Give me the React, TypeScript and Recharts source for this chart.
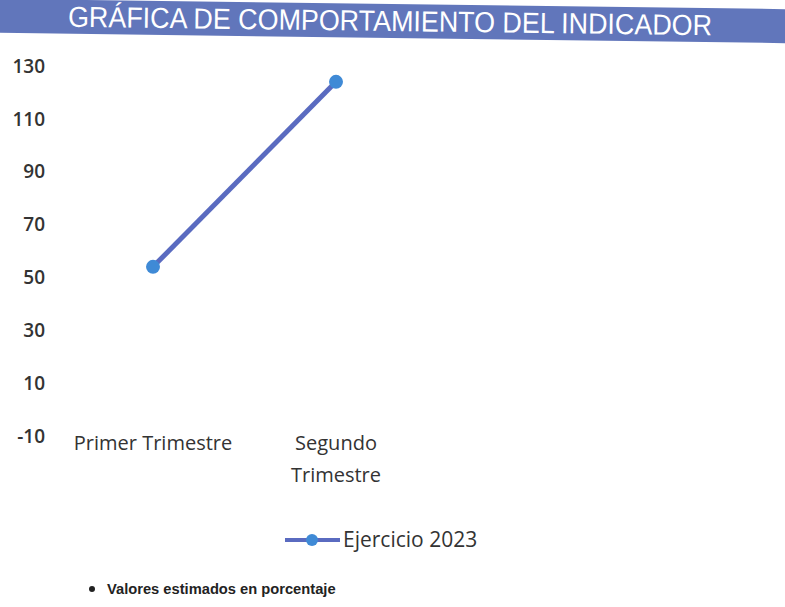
import React from "react";
import { LineChart, Line, XAxis, YAxis } from "recharts";

const categories = ["Primer Trimestre", "Segundo\nTrimestre", "", ""];
const seriesName = "Ejercicio 2023";
const values: (number | null)[] = [54, 124, null, null];
const yTicks = [-10, 10, 30, 50, 70, 90, 110, 130];
const titleText = "GRÁFICA DE COMPORTAMIENTO DEL INDICADOR";
const noteText = "Valores estimados en porcentaje";

const data = categories.map((c, i) => ({ cat: c, v: values[i] }));

const LINE = "#5a6bc0";
const DOT = "#3f8ad6";
const TXT = "#333333";
const FONT = "'Open Sans', Lato, sans-serif";

const XTick = (props: any) => {
  const { x, y, payload } = props;
  const lines = String(payload.value).split("\n");
  return (
    <g>
      {lines.map((l: string, i: number) => (
        <text
          key={i}
          x={x}
          y={y + 6 + i * 32}
          textAnchor="middle"
          fill={TXT}
          fontFamily={FONT}
          fontSize={20}
          fontWeight={500}
        >
          {l}
        </text>
      ))}
    </g>
  );
};

export default function App() {
  return (
    <div
      style={{
        position: "absolute",
        left: 0,
        top: 0,
        width: 785,
        height: 607,
        background: "#ffffff",
        overflow: "hidden",
      }}
    >
      <LineChart
        width={785}
        height={607}
        data={data}
        margin={{ top: 66, right: 0, bottom: 141, left: 0 }}
      >
        <XAxis
          dataKey="cat"
          axisLine={false}
          tickLine={false}
          interval={0}
          height={30}
          padding={{ left: 90, right: 83 }}
          tick={<XTick />}
        />
        <YAxis
          domain={[-10, 130]}
          ticks={yTicks}
          axisLine={false}
          tickLine={false}
          tickSize={0}
          tickMargin={18}
          width={63}
          interval={0}
          tick={{ fill: TXT, fontFamily: FONT, fontSize: 19, fontWeight: 600 }}
        />
        <Line
          dataKey="v"
          name={seriesName}
          stroke={LINE}
          strokeWidth={5}
          isAnimationActive={false}
          dot={{ r: 7, fill: DOT, stroke: DOT, strokeWidth: 0 }}
          activeDot={false}
        />
      </LineChart>

      <svg
        width={785}
        height={50}
        style={{ position: "absolute", left: 0, top: 0 }}
      >
        <g transform="rotate(0.75 392 22)">
          <rect x={-10} y={4} width={810} height={34} fill="#6176bb" />
          <text
            x={390}
            y={31}
            textAnchor="middle"
            fill="#ffffff"
            fontFamily="'Liberation Sans', Arial, sans-serif"
            fontSize={29}
            textLength={644}
            lengthAdjust="spacingAndGlyphs"
          >
            {titleText}
          </text>
        </g>
      </svg>

      <svg
        width={785}
        height={80}
        style={{ position: "absolute", left: 0, top: 520 }}
      >
        <line x1={285} y1={20} x2={340} y2={20} stroke={LINE} strokeWidth={4} />
        <circle cx={312} cy={20} r={6} fill={DOT} />
        <text
          x={343}
          y={27}
          fill={TXT}
          fontFamily={FONT}
          fontSize={21}
          fontWeight={500}
        >
          {seriesName}
        </text>
        <circle cx={92} cy={69} r={3} fill="#222" />
        <text
          x={107}
          y={74}
          fill="#222"
          fontFamily="'Liberation Sans', Arial, sans-serif"
          fontSize={14.7}
          fontWeight={600}
        >
          {noteText}
        </text>
      </svg>
    </div>
  );
}
